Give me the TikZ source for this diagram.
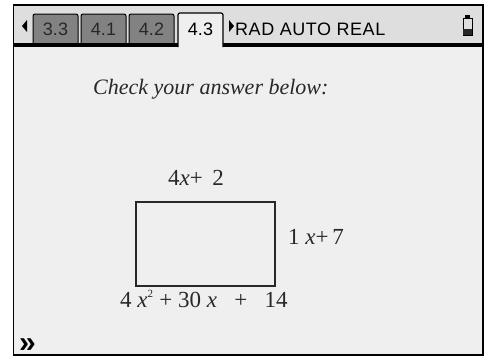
\documentclass[tikz,border=0pt]{standalone}
\usepackage{fontspec}
\setmainfont{Liberation Serif}
\setsansfont{Liberation Sans}
\usepackage{xcolor}
\usepackage{tikz}
\definecolor{screen}{RGB}{239,239,239}
\definecolor{header}{RGB}{222,222,222}
\definecolor{tabgray}{RGB}{130,130,130}
\definecolor{ink}{RGB}{40,40,40}

\begin{document}
\begin{tikzpicture}[x=1pt,y=-1pt,
  tab/.style={draw=black, fill=tabgray, line width=1pt, rounded corners=2pt},
  tabtext/.style={font=\sffamily\fontsize{18}{18}\selectfont, text=ink, inner sep=0pt, anchor=base},
  mathlabel/.style={font=\fontsize{23}{23}\selectfont, text=ink, inner sep=0pt, anchor=base west}]
\useasboundingbox (0,0) rectangle (485,360);
% Screen
\fill[white] (0,0) rectangle (485,360);
\fill[screen] (14,5) rectangle (483,355);
\fill[header] (14,5) rectangle (483,44);
% Tabs
\draw[tab] (33,44) -- (33,14) -- (78,14) -- (78,44);
\draw[tab] (81,44) -- (81,14) -- (126,14) -- (126,44);
\draw[tab] (129,44) -- (129,14) -- (174,14) -- (174,44);
\node[tabtext] (tabA) at (55.5,35) {3.3};
\node[tabtext] (tabB) at (103.5,35) {4.1};
\node[tabtext] (tabC) at (151.5,35) {4.2};
% Active tab
\fill[black] (14,43) rectangle (178,47);
\fill[black] (223,43) rectangle (483,47);
\fill[screen, rounded corners=2pt] (178,47) -- (178,13) -- (223,13) -- (223,47) -- cycle;
\draw[line width=1.2pt, rounded corners=2pt] (178,47) -- (178,13) -- (223,13) -- (223,47);
\node[tabtext, text=black] (tabD) at (200.5,35) {4.3};
% Arrows
\fill[black] (22,26) -- (27,20) -- (27,32) -- cycle;
\fill[black] (229,20) -- (234,26) -- (229,32) -- cycle;
\node[tabtext, anchor=base west, text=black] (mode) at (235,35)
  {\addfontfeatures{LetterSpace=3}RAD AUTO REAL};
% Battery
\draw[line width=1pt] (463,18) rectangle (472,35);
\fill[black] (465,14.5) rectangle (470,18);
\fill[ink] (463,29) rectangle (472,35);
% Frame
\draw[line width=1.5pt] (13.5,5) -- (483,5) -- (483,355) -- (13.5,355) -- cycle;
% Prompt
\node[font=\itshape\fontsize{22}{22}\selectfont, text=ink, inner sep=0pt, anchor=base west]
  (prompt) at (93,94) {Check your answer below:};
% Rectangle
\draw[line width=1.3pt, draw=ink] (136,202) rectangle (275,286);
\node[mathlabel] (top) at (168,185) {4\textit{x}+\ \,2};
\node[mathlabel] (side) at (288,244) {1\ \textit{x}+\,7};
\node[mathlabel] (bottom) at (120,307) {4\ \textit{x}\textsuperscript{\fontsize{11}{11}\selectfont 2}\ +\ 30\ \textit{x}\ \ \ +\ \ \ 14};
% Entry line
\node[font=\sffamily\bfseries\fontsize{30}{30}\selectfont, inner sep=0pt, anchor=base west]
  (entry) at (19,352) {»};
\end{tikzpicture}
\end{document}
